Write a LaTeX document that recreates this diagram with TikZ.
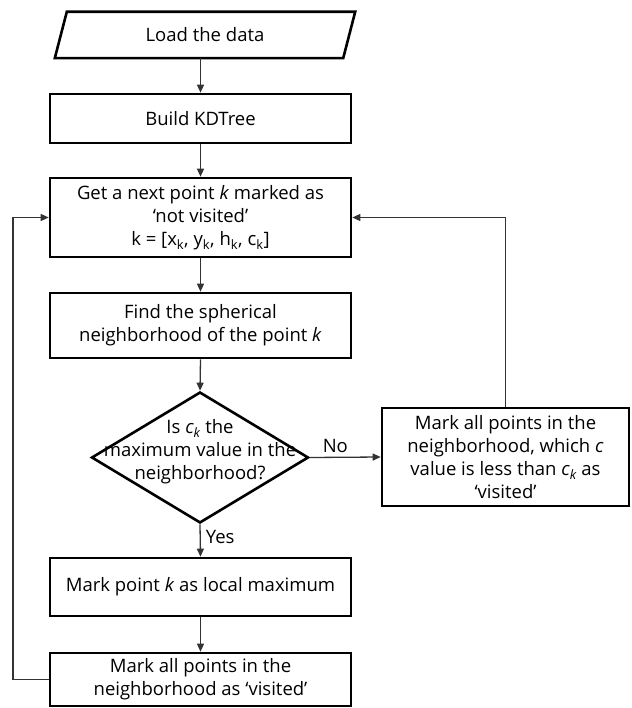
\documentclass[tikz,border=0pt]{standalone}
\usepackage{fontspec}
\setmainfont{Open Sans}
\usetikzlibrary{arrows.meta,shapes.geometric,calc}
\begin{document}
\begin{tikzpicture}[x=1pt,y=-1pt,
  font=\fontsize{18.5}{23}\selectfont,
  box/.style={draw, line width=2.6pt, align=center, inner sep=2pt},
  arr/.style={line width=1.3pt, draw=black!80, -{Triangle[length=8pt,width=7pt]}},
  lbl/.style={inner sep=1pt}]
\useasboundingbox (0,0) rectangle (631,708);
% nodes
\node[align=center, minimum width=300pt, minimum height=46pt, inner sep=0pt] (load) at (205,35) {Load the data};
\draw[line width=2.6pt, line join=miter]
  ([xshift=12pt]load.north west) -- (load.north east) -- ([xshift=-12pt]load.south east) -- (load.south west) -- cycle;
\node[box, minimum width=301pt, minimum height=49pt] (build) at (200.5,118.5) {Build KDTree};
\node[box, minimum width=301pt, minimum height=79pt] (get) at (200.5,217.5)
  {Get a next point \textit{k} marked as\\`not visited'\\k = [x\textsubscript{k}, y\textsubscript{k}, h\textsubscript{k}, c\textsubscript{k}]};
\node[box, minimum width=301pt, minimum height=65pt] (find) at (200.5,325.5)
  {Find the spherical\\neighborhood of the point \textit{k}};
\node[draw, shape=diamond, line width=2.6pt, minimum width=217pt, minimum height=131pt, inner sep=0pt] (dia) at (200,457.5) {};
\node[align=center, inner sep=0pt] (diatext) at (200,452)
  {Is \textit{c\textsubscript{k}} the\\maximum value in the\\neighborhood?};
\node[box, minimum width=247pt, minimum height=98pt] (mark) at (505.5,457)
  {Mark all points in the\\neighborhood, which \textit{c}\\value is less than \textit{c\textsubscript{k}} as\\`visited'};
\node[box, minimum width=301pt, minimum height=58pt] (lmax) at (200.5,587)
  {Mark point \textit{k} as local maximum};
\node[box, minimum width=301pt, minimum height=53pt] (mvis) at (200.5,679.5)
  {Mark all points in the\\neighborhood as `visited'};
\coordinate (lx) at (13,0);
% connectors
\draw[arr] (load.south -| build.north) -- (build.north);
\draw[arr] (build.south) -- (get.north);
\draw[arr] (get.south) -- (find.north);
\draw[arr] (find.south) -- (dia.north);
\draw[arr] (dia.south) -- node[lbl, right=4pt, pos=0.4] (yes) {Yes} (lmax.north);
\draw[arr] (dia.east) -- node[lbl, above=3pt, pos=0.36] (no) {No} (mark.west);
\draw[arr] (mark.north) -- (mark.north |- get.east) -- (get.east);
\draw[arr] (mvis.west) -- (mvis.west -| lx) -- (get.west -| lx) -- (get.west);
\draw[arr] (lmax.south) -- (mvis.north);
\end{tikzpicture}
\end{document}
